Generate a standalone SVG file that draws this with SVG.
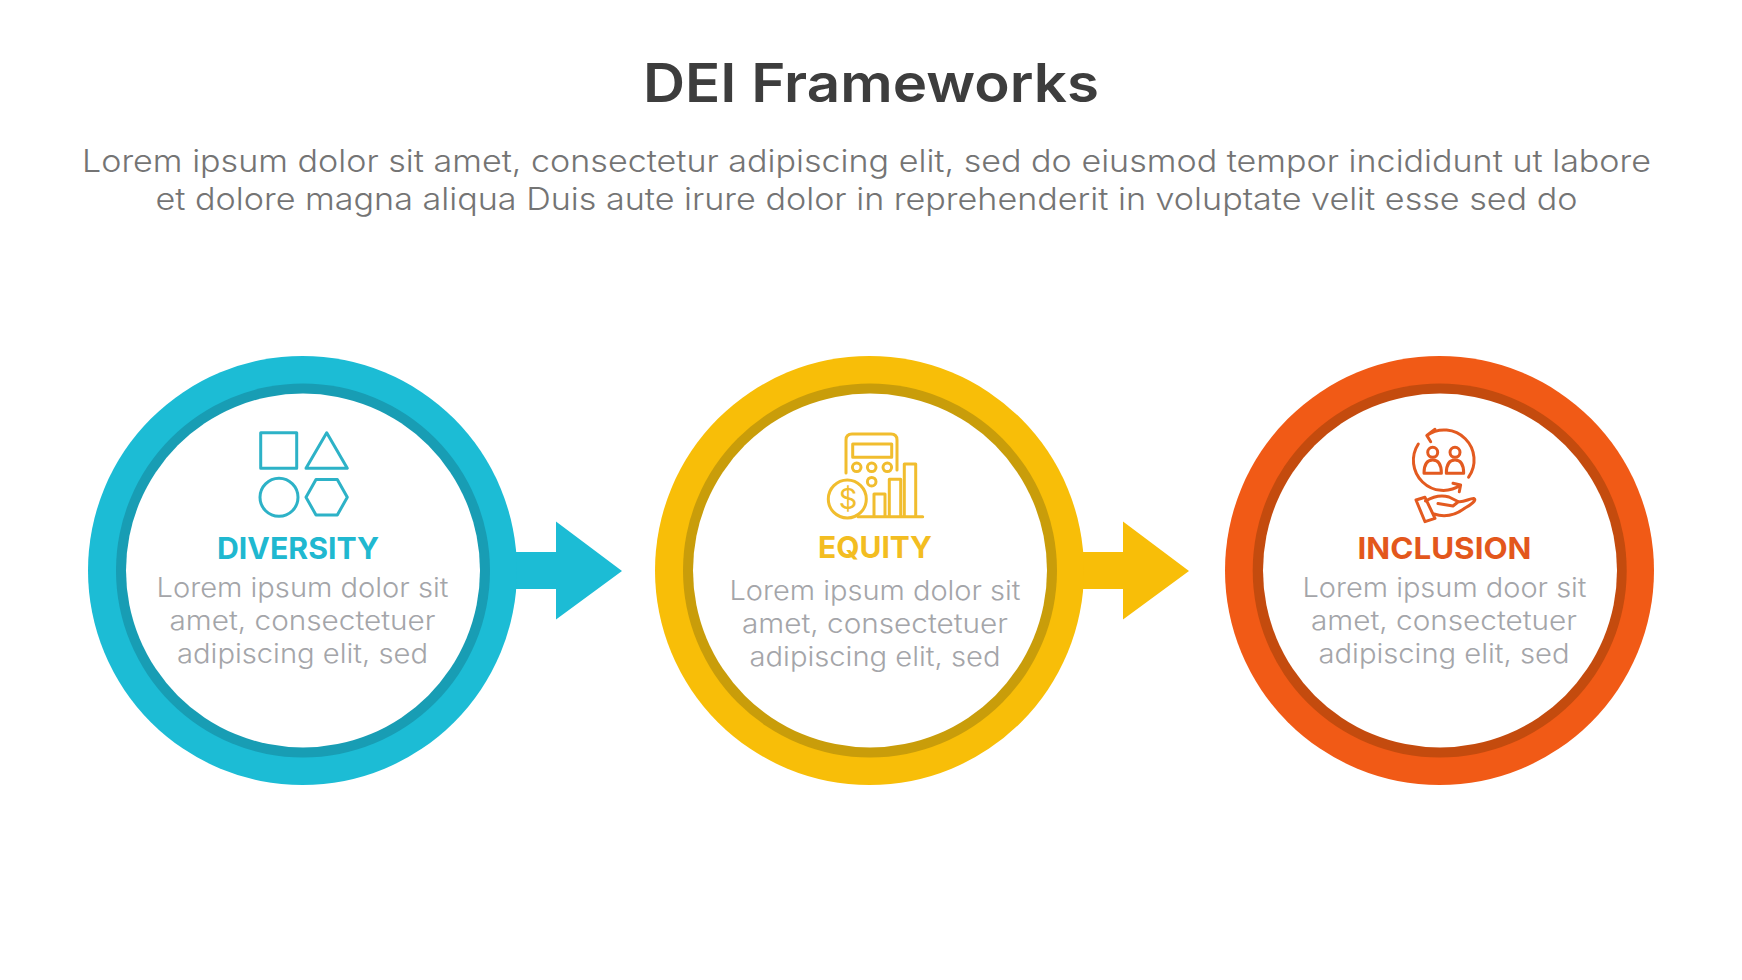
<svg xmlns="http://www.w3.org/2000/svg" width="1742" height="980" viewBox="0 0 1742 980">
<style>
text{font-family:Inter,"Noto Sans","Liberation Sans",sans-serif}
.title{font-size:53px;font-weight:600;fill:#3d3d3d}
.sub{font-size:31px;font-weight:300;fill:#747474}
.head{font-size:30px;font-weight:700}
.body{font-size:27px;font-weight:300;fill:#a4a5a9}
.ic{fill:none;stroke-width:3;stroke-linejoin:round;stroke-linecap:round}
.white{fill:#fff}
.blue{fill:#1cbcd5}.blued{fill:#189db4}.bluet{fill:#20b8d0}.bluei{stroke:#2db2c7}
.yel{fill:#f8be08}.yeld{fill:#c99d0a}.yelt{fill:#f3bd21}.yeli{stroke:#f1bd2e}
.org{fill:#f15a16}.orgd{fill:#c44b0e}.orgt{fill:#e3571c}.orgi{stroke:#e35a20}
</style>
<rect width="1742" height="980" fill="#fff"/>
<g id="header">
<text class="title" x="871" y="102" text-anchor="middle" textLength="456" lengthAdjust="spacingAndGlyphs">DEI Frameworks</text>
<text class="sub" x="866.5" y="172" text-anchor="middle" textLength="1569" lengthAdjust="spacingAndGlyphs">Lorem ipsum dolor sit amet, consectetur adipiscing elit, sed do eiusmod tempor incididunt ut labore</text>
<text class="sub" x="866.5" y="210" text-anchor="middle" textLength="1422" lengthAdjust="spacingAndGlyphs">et dolore magna aliqua Duis aute irure dolor in reprehenderit in voluptate velit esse sed do</text>
</g>
<g id="connectors">
<path class="blue" d="M505 552H556V521.500L622 571L556 619.500V589H505Z"/>
<path class="yel" d="M1073 552H1123V521.500L1189 571L1123 619.500V589H1073Z"/>
</g>
<g id="diversity">
<circle class="blue" cx="302.500" cy="570.500" r="214.500"/>
<circle class="blued" cx="303" cy="570.500" r="187"/>
<circle class="white" cx="303" cy="570.500" r="177"/>
<g class="ic bluei">
<rect x="260.700" y="432.700" width="36" height="35.600"/>
<path d="M326.700 432.700L347.300 468.300H306Z"/>
<circle cx="279" cy="497.300" r="19"/>
<path d="M306 497.300L316 479.500H337.300L347.300 497.300L337.300 515H316Z"/>
</g>
<text class="head bluet" x="298" y="559" text-anchor="middle" textLength="162" lengthAdjust="spacingAndGlyphs">DIVERSITY</text>
<text class="body" x="302.500" y="597" text-anchor="middle" textLength="292" lengthAdjust="spacingAndGlyphs">Lorem ipsum dolor sit</text>
<text class="body" x="302.500" y="630" text-anchor="middle" textLength="266" lengthAdjust="spacingAndGlyphs">amet, consectetuer</text>
<text class="body" x="302.500" y="662.500" text-anchor="middle" textLength="251" lengthAdjust="spacingAndGlyphs">adipiscing elit, sed</text>
</g>
<g id="equity">
<circle class="yel" cx="869.500" cy="570.500" r="214.500"/>
<circle class="yeld" cx="870" cy="570.500" r="187"/>
<circle class="white" cx="870" cy="570.500" r="177"/>
<g class="ic yeli">
<path d="M846 473V440Q846 434 852 434H891Q897 434 897 440V470"/>
<rect x="852.700" y="444" width="39" height="13.300"/>
<circle cx="856.700" cy="467.300" r="4.300"/>
<circle cx="871.700" cy="467.300" r="4.300"/>
<circle cx="887.300" cy="467.300" r="4.300"/>
<circle cx="871.700" cy="481.700" r="4.300"/>
<circle cx="847.300" cy="499" r="19"/>
<path d="M874 516.700V494H885V516.700M889.300 516.700V479.300H900.700V516.700M904.300 516.700V464H915.700V516.700M858 516.700H922.700"/>
</g>
<text x="848" y="509" text-anchor="middle" style="font-size:29px;font-weight:400;fill:#f1bd2e">$</text>
<text class="head yelt" x="875" y="558" text-anchor="middle" textLength="114" lengthAdjust="spacingAndGlyphs">EQUITY</text>
<text class="body" x="875" y="600" text-anchor="middle" textLength="291" lengthAdjust="spacingAndGlyphs">Lorem ipsum dolor sit</text>
<text class="body" x="875" y="633" text-anchor="middle" textLength="266" lengthAdjust="spacingAndGlyphs">amet, consectetuer</text>
<text class="body" x="875" y="665.500" text-anchor="middle" textLength="251" lengthAdjust="spacingAndGlyphs">adipiscing elit, sed</text>
</g>
<g id="inclusion">
<circle class="org" cx="1439.500" cy="570.500" r="214.500"/>
<circle class="orgd" cx="1439.700" cy="570.500" r="187"/>
<circle class="white" cx="1440" cy="570.500" r="177"/>
<g class="ic orgi">
<path d="M1468.600 477.200A30 30 0 0 0 1426.800 435.400M1435 429.300L1426.800 435.400L1430.700 441.700"/>
<path d="M1418.300 444A30 30 0 0 0 1460.600 485M1453 483.300L1460.600 485L1459.300 491.700"/>
<circle cx="1432.700" cy="452.300" r="5"/>
<circle cx="1455" cy="452.300" r="5"/>
<path d="M1424 473.300Q1424 460 1432.700 460Q1441.400 460 1441.400 473.300Z"/>
<path d="M1446.300 473.300Q1446.300 460 1455 460Q1463.700 460 1463.700 473.300Z"/>
<path d="M1416 500L1425 497.300L1435 518.300L1425 521.700Z"/>
<path d="M1425.500 501C1434 496 1442 495 1449 497L1458 501.500C1463 503 1470 498 1474 498.500C1477 500 1471 505 1465 508C1457 514 1446 518 1434 514M1438 503.500L1453 506L1458 502"/>
</g>
<text class="head orgt" x="1444.500" y="559" text-anchor="middle" textLength="174" lengthAdjust="spacingAndGlyphs">INCLUSION</text>
<text class="body" x="1444.500" y="597" text-anchor="middle" textLength="284" lengthAdjust="spacingAndGlyphs">Lorem ipsum door sit</text>
<text class="body" x="1444" y="630" text-anchor="middle" textLength="266" lengthAdjust="spacingAndGlyphs">amet, consectetuer</text>
<text class="body" x="1444" y="662.500" text-anchor="middle" textLength="251" lengthAdjust="spacingAndGlyphs">adipiscing elit, sed</text>
</g>
</svg>
